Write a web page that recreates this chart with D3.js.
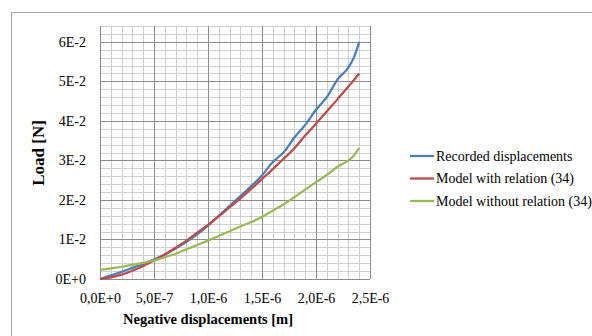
<!DOCTYPE html>
<html>
<head>
<meta charset="utf-8">
<script src="https://cdn.jsdelivr.net/npm/d3@7/dist/d3.min.js"></script>
<style>
  html, body { margin: 0; padding: 0; background: #fff; }
  svg { display: block; }
</style>
</head>
<body>
<svg id="chart" width="592" height="336"></svg>
<script>
// Displacement steps (m)
const displacement = [0, 1e-7, 2e-7, 3e-7, 4e-7, 5e-7, 6e-7, 7e-7, 8e-7, 9e-7, 1.0e-6,
  1.1e-6, 1.2e-6, 1.3e-6, 1.4e-6, 1.5e-6, 1.6e-6, 1.65e-6, 1.7e-6, 1.8e-6, 1.9e-6, 2.0e-6,
  2.1e-6, 2.2e-6, 2.3e-6, 2.35e-6, 2.4e-6];

// Load (N) for each series
const recorded = [0.0000, 0.0009, 0.0018, 0.0028, 0.0038, 0.0049, 0.0062, 0.0077, 0.0094, 0.0113, 0.0135,
  0.0160, 0.0185, 0.0210, 0.0235, 0.0262, 0.0296, 0.0308, 0.0320, 0.0358, 0.0390, 0.0428,
  0.0460, 0.0505, 0.0535, 0.0560, 0.0600];
const withRelation = [0.0000, 0.0004, 0.0011, 0.0021, 0.0033, 0.0047, 0.0062, 0.0079, 0.0097, 0.0117, 0.0137,
  0.0159, 0.0181, 0.0204, 0.0228, 0.0253, 0.0278, 0.0291, 0.0304, 0.0331, 0.0363, 0.0393,
  0.0424, 0.0455, 0.0487, 0.0503, 0.0520];
const withoutRelation = [0.0023, 0.0027, 0.0031, 0.0036, 0.0041, 0.0047, 0.0055, 0.0064, 0.0075, 0.0086, 0.0097,
  0.0109, 0.0121, 0.0133, 0.0144, 0.0157, 0.0173, 0.0181, 0.0189, 0.0207, 0.0226, 0.0245,
  0.0263, 0.0284, 0.0300, 0.0312, 0.0332];

const seriesNames = ["Recorded displacements", "Model with relation (34)", "Model without relation (34)"];
const seriesColors = ["#4a7ebb", "#be4b48", "#98b954"];

const xTicks = [0, 5e-7, 1e-6, 1.5e-6, 2e-6, 2.5e-6];
const xTickLabels = ["0,0E+0", "5,0E-7", "1,0E-6", "1,5E-6", "2,0E-6", "2,5E-6"];
const yTicks = [0, 0.01, 0.02, 0.03, 0.04, 0.05, 0.06];
const yTickLabels = ["0E+0", "1E-2", "2E-2", "3E-2", "4E-2", "5E-2", "6E-2"];

const SERIF = "'Liberation Serif', 'Times New Roman', serif";

const svg = d3.select("#chart");

// chart frame
svg.append("rect")
  .attr("x", 11.5).attr("y", 12.5)
  .attr("width", 600).attr("height", 340)
  .attr("fill", "#fff").attr("stroke", "#a6a6a6").attr("stroke-width", 1);

const x = d3.scaleLinear().domain([0, 2.5e-6]).range([100, 370]);
const y = d3.scaleLinear().domain([0, 0.064]).range([279, 26]);

// minor grid
const grid = svg.append("g").attr("shape-rendering", "crispEdges");
const xMinor = d3.range(0, 26).map(i => i * 1e-7);
const yMinor = d3.range(0, 33).map(i => i * 0.002);
grid.selectAll("line.xm").data(xMinor).join("line")
  .attr("x1", d => Math.round(x(d)) + 0.5).attr("x2", d => Math.round(x(d)) + 0.5)
  .attr("y1", y(0.064)).attr("y2", y(0))
  .attr("stroke", "#cfcfcf");
grid.selectAll("line.ym").data(yMinor).join("line")
  .attr("y1", d => Math.round(y(d)) + 0.5).attr("y2", d => Math.round(y(d)) + 0.5)
  .attr("x1", x(0)).attr("x2", x(2.5e-6))
  .attr("stroke", "#cfcfcf");
// major grid
grid.selectAll("line.xM").data(xTicks).join("line")
  .attr("x1", d => Math.round(x(d)) + 0.5).attr("x2", d => Math.round(x(d)) + 0.5)
  .attr("y1", y(0.064)).attr("y2", y(0))
  .attr("stroke", "#8c8c8c");
grid.selectAll("line.yM").data(yTicks).join("line")
  .attr("y1", d => Math.round(y(d)) + 0.5).attr("y2", d => Math.round(y(d)) + 0.5)
  .attr("x1", x(0)).attr("x2", x(2.5e-6))
  .attr("stroke", "#8c8c8c");

// axes (labels only)
const xAxis = d3.axisBottom(x).tickValues(xTicks).tickSize(0).tickPadding(0)
  .tickFormat((d, i) => xTickLabels[i]);
const gx = svg.append("g").attr("transform", "translate(0,292)").call(xAxis)
  .attr("font-family", SERIF).attr("font-size", 14);
gx.select(".domain").remove();
gx.selectAll("text").style("font-family", SERIF).style("font-size", "14px")
  .attr("fill", "#000").attr("dy", "0.8em");

const yAxis = d3.axisLeft(y).tickValues(yTicks).tickSize(0).tickPadding(0)
  .tickFormat((d, i) => yTickLabels[i]);
const gy = svg.append("g").attr("transform", "translate(86,0)").call(yAxis)
  .attr("font-family", SERIF).attr("font-size", 14);
gy.select(".domain").remove();
gy.selectAll("text").style("font-family", SERIF).style("font-size", "14px").attr("fill", "#000");

// axis titles
svg.append("text")
  .attr("x", 208).attr("y", 324)
  .attr("text-anchor", "middle")
  .style("font-family", SERIF).style("font-weight", "bold").style("font-size", "14.5px")
  .text("Negative displacements [m]");
svg.append("text")
  .attr("transform", "translate(44,153) rotate(-90)")
  .attr("text-anchor", "middle")
  .style("font-family", SERIF).style("font-weight", "bold").style("font-size", "17px")
  .text("Load [N]");

// series lines
const series = [recorded, withRelation, withoutRelation];
const line = d3.line()
  .x((d, i) => x(displacement[i]))
  .y(d => y(d))
  .curve(d3.curveMonotoneX);
svg.append("g").selectAll("path").data(series).join("path")
  .attr("d", d => line(d))
  .attr("fill", "none")
  .attr("stroke", (d, i) => seriesColors[i])
  .attr("stroke-width", 2.25)
  .attr("stroke-linejoin", "round");

// legend
const legendY = [156, 178.5, 201];
const legend = svg.append("g");
seriesNames.forEach((name, i) => {
  legend.append("line")
    .attr("x1", 410).attr("x2", 434)
    .attr("y1", legendY[i]).attr("y2", legendY[i])
    .attr("stroke", seriesColors[i]).attr("stroke-width", 2.25);
  legend.append("text")
    .attr("x", 436).attr("y", legendY[i]).attr("dy", "0.33em")
    .style("font-family", SERIF).style("font-size", "14px")
    .text(name);
});
</script>
</body>
</html>
